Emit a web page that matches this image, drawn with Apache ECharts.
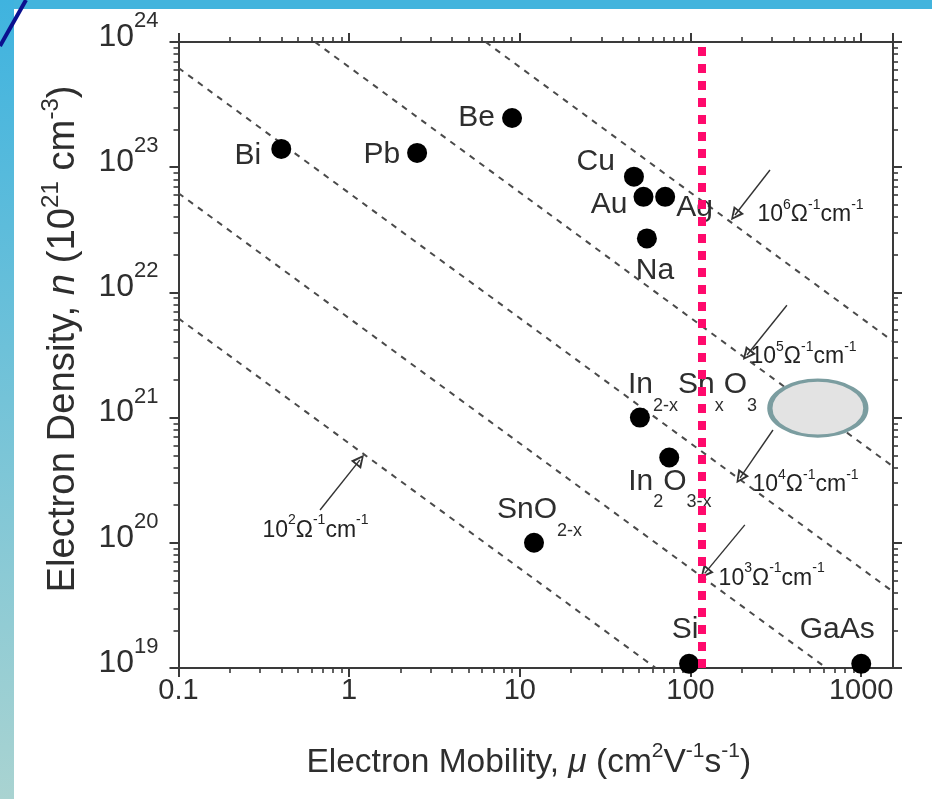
<!DOCTYPE html>
<html><head><meta charset="utf-8">
<script src="https://cdn.jsdelivr.net/npm/echarts@6/dist/echarts.min.js"></script>
<style>html,body{margin:0;padding:0;background:#fff}#c{width:932px;height:799px}</style>
</head><body><div id="c"></div>
<script>
// ---------- data ----------
const materials = ['Bi','Pb','Be','Cu','Au','Ag','Na','In2-xSnxO3','In2O3-x','SnO2-x','Si','GaAs'];
const mobility  = [0.40, 2.5, 9.0, 46.6, 53, 71, 55.5, 50.5, 75, 12.1, 98, 1000];
const density   = [1.4e23, 1.3e23, 2.47e23, 8.4e22, 5.8e22, 5.8e22, 2.7e22, 1.0e21, 4.8e20, 1.0e20, 1.08e19, 1.08e19];

// iso-conductivity dashed lines (exponent of sigma, endpoints)
const sigmaExps    = ['2','3','4','5','6'];
const lineStartMu  = [0.1, 0.1, 0.1, 0.63, 6.3];
const lineStartN   = [6.2e21, 6.2e22, 6.2e23, 1e24, 1e24];
const lineEndMu    = [62.5, 625, 1535, 1535, 1535];
const lineEndN     = [1e19, 1e19, 4.07e19, 4.07e20, 4.07e21];

// sigma label anchors and their arrows
const sigmaLabelMu = [0.308, 145, 229, 223, 245];
const sigmaLabelN  = [1.26e20, 5.2e19, 2.9e20, 3.05e21, 4.15e22];
const arrowFromMu  = [0.675, 208, 304, 367, 292];
const arrowFromN   = [1.83e20, 1.39e20, 7.96e20, 7.9e21, 9.5e22];
const arrowToMu    = [1.156, 121, 195, 214, 182];
const arrowToN     = [4.6e20, 5.7e19, 3.3e20, 3.16e21, 4.15e22];

const ellipseMu = [557];
const ellipseN  = [1.19e21];
const markerMu  = 116.6;   // red dotted vertical line

const xMin = 0.1, xMax = 1535, yMin = 1e19, yMax = 1e24;
const xTickLabels = ['0.1','1','10','100','1000'];
const yTickExps   = ['19','20','21','22','23','24'];

// ---------- styles ----------
const FONT = "'Liberation Sans', Arial, sans-serif";
const TXT = '#2e2e2e';
const AX = '#3a3a3a';

const labelText = ['Bi','Pb','Be','Cu','Au','Ag','Na',
  '{n|In}{s|2-x}{n|Sn}{s|x}{n|O}{s|3}', '{n|In}{s|2}{n|O}{s|3-x}', '{n|SnO}{s|2-x}', 'Si','GaAs'];
const labelPos  = ['left','left','left','left','left','right','bottom',[-2,-23],[-31,34],[-27,-23],'top','top'];
const labelOff  = [[0,7],[0,2],[0,0],[0,-15],[0,8],[0,11],[8,0],[0,0],[0,0],[0,0],[-4,0],[-24,0]];
const labelDist = [10,7,7,9,6,1,7,0,0,0,9,9];

const minorX = [], minorY = [];
[-1,0,1,2].forEach(d => [2,3,4,5,6,7,8,9].forEach(f => minorX.push(d + Math.log10(f))));
[19,20,21,22,23].forEach(d => [2,3,4,5,6,7,8,9].forEach(f => minorY.push(d + Math.log10(f))));

const arrowPath = 'path://M5,0L10,14L0,14Z M5,4L2.5,12L7.5,12Z';

function majorAxis(pos, showLabel, extra) {
  return Object.assign({
    type: 'log', logBase: 10, position: pos,
    axisLine: {show: true, onZero: false, lineStyle: {color: AX, width: 2}},
    axisTick: {show: true, length: 9, lineStyle: {color: AX, width: 2}},
    minorTick: {show: false}, splitLine: {show: false}, minorSplitLine: {show: false},
    axisLabel: {show: showLabel}
  }, extra);
}
function minorAxis(pos, mn, mx, vals) {
  return {
    type: 'value', position: pos, min: mn, max: mx,
    axisLine: {show: false, onZero: false},
    axisTick: {show: true, length: 5, customValues: vals, lineStyle: {color: AX, width: 1.6}},
    axisLabel: {show: false}, splitLine: {show: false}
  };
}

const series = [];
sigmaExps.forEach((e, k) => {
  series.push({
    type: 'line', name: 'sigma' + e, silent: true, z: 2,
    data: [[lineStartMu[k], lineStartN[k]], [lineEndMu[k], lineEndN[k]]],
    symbol: 'none', showSymbol: false,
    lineStyle: {color: '#4a4a4a', width: 2, type: [6, 6], cap: 'butt'}
  });
});
// arrows on first dashed series
series[0].markLine = {
  silent: true, animation: false,
  symbol: ['none', arrowPath], symbolSize: 13,
  lineStyle: {color: '#333', width: 1.4, type: 'solid'},
  itemStyle: {color: '#333'},
  label: {show: false},
  data: arrowFromMu.map((m, k) => [{coord: [m, arrowFromN[k]]}, {coord: [arrowToMu[k], arrowToN[k]]}])
};
// sigma labels
series.push({
  type: 'scatter', silent: true, z: 4, symbolSize: 1,
  itemStyle: {color: '#ffffff', opacity: 1},
  data: sigmaLabelMu.map((m, k) => [m, sigmaLabelN[k]]),
  label: {
    show: true, position: 'right', distance: 0, color: '#222',
    formatter: p => '{b|10}{p|' + sigmaExps[p.dataIndex] + '}{b|Ω}{p|-1}{b|cm}{p|-1}',
    rich: {
      b: {fontSize: 23, lineHeight: 34, color: '#222', fontFamily: FONT},
      p: {fontSize: 14, lineHeight: 14, verticalAlign: 'top', color: '#222', fontFamily: FONT}
    }
  }
});
// grey ellipse annotation + red dotted marker line
series.push({
  type: 'scatter', silent: true, z: 6,
  symbol: 'circle', symbolSize: [96, 56],
  itemStyle: {color: '#e3e3e3', borderColor: '#7b9da0', borderWidth: 4, opacity: 1},
  data: ellipseMu.map((m, k) => [m, ellipseN[k]]),
  markLine: {
    silent: true, animation: false, symbol: ['none', 'none'],
    lineStyle: {color: '#ff0a6c', width: 8, type: [9, 8], cap: 'butt'},
    label: {show: false},
    data: [{xAxis: markerMu}]
  }
});
// materials
series.push({
  type: 'scatter', z: 3, symbol: 'circle', symbolSize: 20,
  itemStyle: {color: '#000', opacity: 1},
  data: materials.map((m, k) => ({
    name: m, value: [mobility[k], density[k]],
    label: {
      show: true, position: labelPos[k], offset: labelOff[k], distance: labelDist[k],
      align: Array.isArray(labelPos[k]) ? 'left' : undefined,
      verticalAlign: Array.isArray(labelPos[k]) ? 'middle' : undefined,
      formatter: labelText[k]
    }
  })),
  label: {
    show: true, fontSize: 30, color: TXT, fontFamily: FONT,
    rich: {
      n: {fontSize: 30, lineHeight: 60, color: TXT, fontFamily: FONT},
      s: {fontSize: 18, lineHeight: 18, verticalAlign: 'bottom', color: TXT, fontFamily: FONT}
    }
  }
});

const option = {
  backgroundColor: '#fff',
  animation: false,
  textStyle: {fontFamily: FONT},
  graphic: [
    {type: 'rect', left: 0, top: 0, z: 0, shape: {width: 932, height: 9}, style: {fill: '#42b4dd'}},
    {type: 'rect', left: 0, top: 0, z: 0, shape: {width: 14, height: 799},
      style: {fill: new echarts.graphic.LinearGradient(0, 0, 0, 1, [{offset: 0, color: '#3fb3df'}, {offset: 1, color: '#a9d3d1'}])}},
    {type: 'line', z: 1, shape: {x1: 0, y1: 46, x2: 26, y2: 0}, style: {stroke: '#0b108f', lineWidth: 4}}
  ],
  grid: {left: 178.5, right: 39, top: 42, bottom: 131},
  xAxis: [
    majorAxis('bottom', true, {
      min: xMin, max: xMax,
      axisLabel: {show: true, fontSize: 29, color: TXT, margin: 8, fontFamily: FONT,
        formatter: v => xTickLabels[Math.round(Math.log10(v)) + 1] || ''},
      name: 'Electron Mobility, {i|μ} (cm{p|2}V{p|-1}s{p|-1})',
      nameLocation: 'middle', nameGap: 73,
      nameTextStyle: {fontSize: 33.5, lineHeight: 44, color: TXT, fontFamily: FONT, padding: [0, 14, 0, 0],
        rich: {
          p: {fontSize: 21, lineHeight: 21, verticalAlign: 'top', color: TXT, fontFamily: FONT},
          i: {fontSize: 33.5, fontStyle: 'italic', color: TXT, fontFamily: FONT}
        }}
    }),
    minorAxis('bottom', Math.log10(xMin), Math.log10(xMax), minorX),
    majorAxis('top', false, {min: xMin, max: xMax}),
    minorAxis('top', Math.log10(xMin), Math.log10(xMax), minorX)
  ],
  yAxis: [
    majorAxis('left', true, {
      min: yMin, max: yMax,
      axisLabel: {show: true, margin: 20, padding: [0, 0, 10, 0],
        formatter: v => '{b|10}{p|' + yTickExps[Math.round(Math.log10(v)) - 19] + '}',
        rich: {
          b: {fontSize: 32, lineHeight: 54, color: TXT, fontFamily: FONT},
          p: {fontSize: 22, lineHeight: 22, verticalAlign: 'top', color: TXT, fontFamily: FONT}
        }},
      name: 'Electron Density, {i|n} (10{p|21} cm{p|-3})',
      nameLocation: 'middle', nameGap: 82,
      nameTextStyle: {fontSize: 38.3, lineHeight: 48, color: TXT, fontFamily: FONT, padding: [0, 0, 0, 32],
        rich: {
          p: {fontSize: 24, lineHeight: 24, verticalAlign: 'top', color: TXT, fontFamily: FONT},
          i: {fontSize: 38.3, fontStyle: 'italic', color: TXT, fontFamily: FONT}
        }}
    }),
    minorAxis('left', Math.log10(yMin), Math.log10(yMax), minorY),
    majorAxis('right', false, {min: yMin, max: yMax}),
    minorAxis('right', Math.log10(yMin), Math.log10(yMax), minorY)
  ],
  series: series
};
const chart = echarts.init(document.getElementById('c'), null, {renderer: 'canvas'});
chart.setOption(option);
</script></body></html>
